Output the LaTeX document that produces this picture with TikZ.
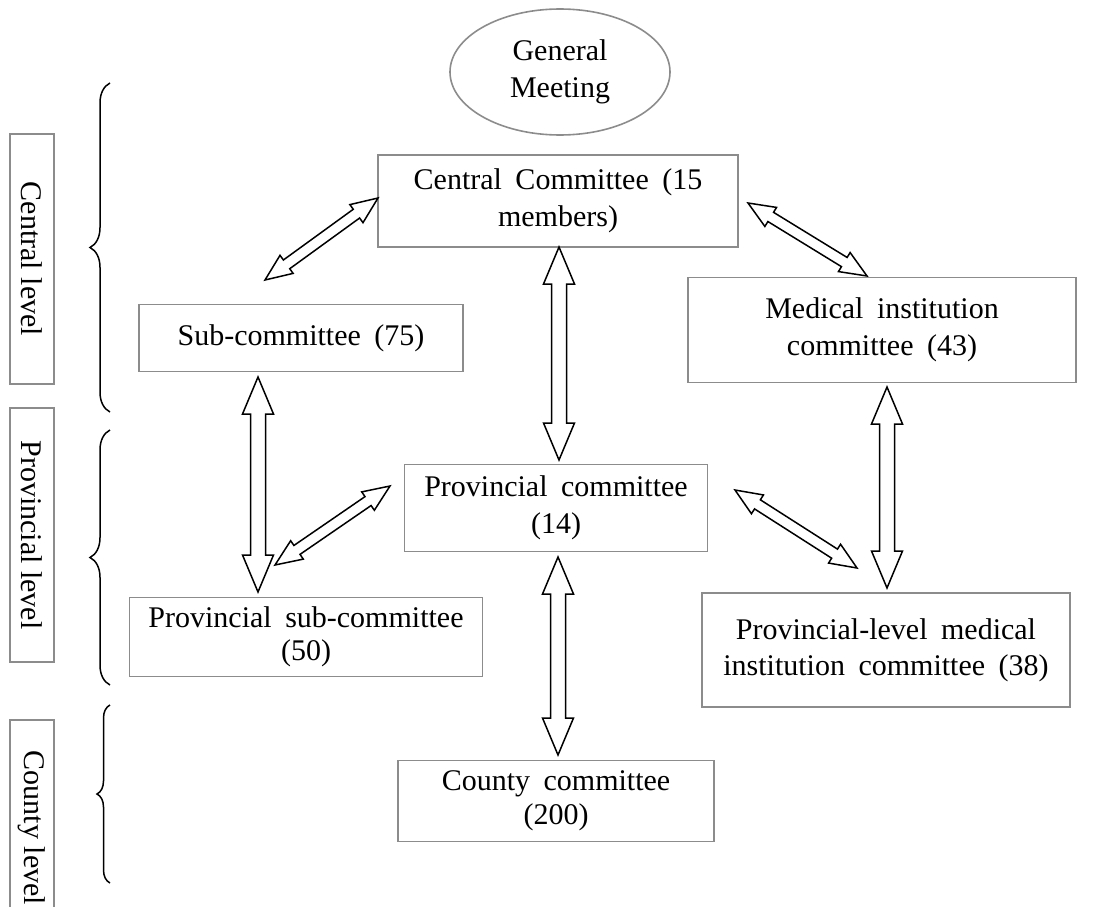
\documentclass[tikz,border=0pt]{standalone}
\usepackage{fontspec}
\setmainfont{Liberation Serif}
\usetikzlibrary{shapes.geometric, decorations.pathreplacing, calc}
\definecolor{boxgray}{RGB}{140,140,140}
\tikzstyle{committee} = [rectangle, draw=boxgray, line width=1.6pt, align=center, inner sep=0pt, font=\fontsize{30}{37}\selectfont, execute at begin node={\spaceskip=0.45em\relax}]
\tikzstyle{meeting} = [ellipse, draw=boxgray, line width=1.6pt, align=center, inner sep=0pt, font=\fontsize{30}{37}\selectfont]
\tikzstyle{level} = [rectangle, draw=boxgray, line width=1.6pt, rotate=-90, inner sep=0pt, minimum height=44pt, font=\fontsize{30}{37}\selectfont]
\tikzstyle{blockarrow} = [draw=black, line width=1.5pt, fill=white, line join=miter]
\tikzstyle{levelbrace} = [decorate, decoration={brace, amplitude=#1}, line width=1.5pt]
% double block arrow from #2 to #3, #1 = size
\newcommand{\dblarrow}[3][1]{%
  \draw[blockarrow] let \p1=(#2), \p2=(#3),
    \n1={atan2(\y2-\y1,\x2-\x1)}, \n2={veclen(\x2-\x1,\y2-\y1)} in
    [shift={(\p1)}, rotate=\n1]
    (0,0) -- ({37*#1},{15.5*#1}) -- ({37*#1},{7.5*#1}) -- ({\n2-37*#1},{7.5*#1})
    -- ({\n2-37*#1},{15.5*#1}) -- (\n2,0) -- ({\n2-37*#1},{-15.5*#1})
    -- ({\n2-37*#1},{-7.5*#1}) -- ({37*#1},{-7.5*#1}) -- ({37*#1},{-15.5*#1}) -- cycle;}

\begin{document}
\begin{tikzpicture}[x=1pt, y=-1pt]
\useasboundingbox (0,0) rectangle (1116,907);

\node (meet) [meeting, minimum width=220pt, minimum height=126pt] at (560,72) {General\\Meeting};
\node (central) [committee, minimum width=360pt, minimum height=92pt] at (558,201) {Central Committee (15\\members)};
\node (sub) [committee, minimum width=324pt, minimum height=67pt] at (301,338) {Sub-committee (75)};
\node (med) [committee, minimum width=388pt, minimum height=105pt] at (882,330) {Medical institution\\committee (43)};
\node (prov) [committee, minimum width=303pt, minimum height=87pt] at (556,508) {Provincial committee\\(14)};
\node (provsub) [committee, minimum width=353pt, minimum height=79pt, font=\fontsize{30}{33}\selectfont] at (306,637) {Provincial sub-committee\\(50)};
\node (provmed) [committee, minimum width=368pt, minimum height=114pt, font=\fontsize{30}{36}\selectfont] at (886,650) {Provincial-level medical\\institution committee (38)};
\node (county) [committee, minimum width=316pt, minimum height=81pt, font=\fontsize{30}{34}\selectfont] at (556,801) {County committee\\(200)};

% level labels
\node (lvl-central) [level, minimum width=250pt] at (32,259) {Central level};
\node (lvl-prov) [level, minimum width=254pt] at (32,535) {Provincial level};
\node (lvl-county) [level, minimum width=216pt] at (32,828) {County level};

\draw [levelbrace=20pt] (110,412) -- (110,83);
\draw [levelbrace=20pt] (110,685) -- (110,430);
\draw [levelbrace=13pt] (110,883) -- (110,705);

% arrow ends
\coordinate (c-sub) at (378,198);
\coordinate (sub-c) at (265,280);
\coordinate (c-prov) at (559,247);
\coordinate (prov-c) at (559,460);
\coordinate (c-med) at (748,203);
\coordinate (med-c) at (867,276);
\coordinate (sub-ps) at (258,377);
\coordinate (ps-sub) at (258,592);
\coordinate (med-pm) at (887,387);
\coordinate (pm-med) at (887,588);
\coordinate (prov-ps) at (390,486);
\coordinate (ps-prov) at (275,565);
\coordinate (prov-pm) at (735,490);
\coordinate (pm-prov) at (857,568);
\coordinate (prov-cty) at (558,557);
\coordinate (cty-prov) at (558,755);

\dblarrow[0.72]{c-sub}{sub-c}
\dblarrow{c-prov}{prov-c}
\dblarrow[0.72]{c-med}{med-c}
\dblarrow{sub-ps}{ps-sub}
\dblarrow{med-pm}{pm-med}
\dblarrow[0.72]{prov-ps}{ps-prov}
\dblarrow[0.72]{prov-pm}{pm-prov}
\dblarrow{prov-cty}{cty-prov}

\end{tikzpicture}
\end{document}
